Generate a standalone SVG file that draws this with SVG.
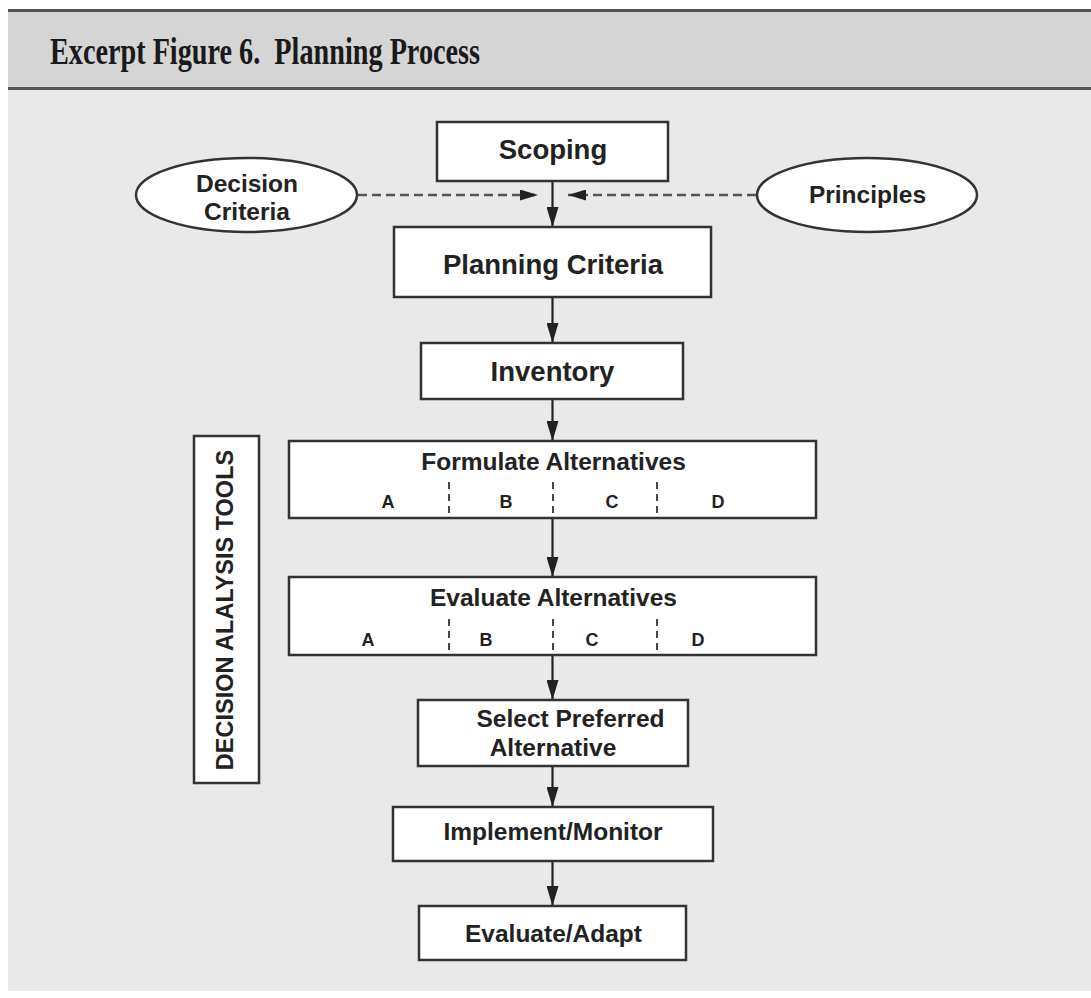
<svg xmlns="http://www.w3.org/2000/svg" width="1091" height="998" viewBox="0 0 1091 998">
<defs>
<style>
.box{fill:#fff;stroke:#333;stroke-width:2.5}
.ell{fill:#fff;stroke:#333;stroke-width:2.5}
.lbl{font-family:"Liberation Sans",Arial,sans-serif;font-weight:bold;fill:#222;text-anchor:middle}
.big{font-size:27.5px}
.mid{font-size:24.5px}
.sm{font-size:18px}
.div{stroke:#333;stroke-width:1.8;stroke-dasharray:7,5}
.flow{stroke:#222;stroke-width:2.2;fill:none}
.dash{stroke:#555;stroke-width:2.4;fill:none;stroke-dasharray:9,5}
</style>
<marker id="ah" markerUnits="userSpaceOnUse" markerWidth="20" markerHeight="12" refX="20" refY="6" orient="auto" viewBox="0 0 20 12">
<path d="M0,0 L20,6 L0,12 z" fill="#222"/>
</marker>
<marker id="ahd" markerUnits="userSpaceOnUse" markerWidth="18" markerHeight="11" refX="18" refY="5.5" orient="auto" viewBox="0 0 18 11">
<path d="M0,0 L18,5.5 L0,11 z" fill="#222"/>
</marker>
</defs>
<rect x="0" y="0" width="1091" height="998" fill="#fff"/>
<g id="frame">
<rect x="8" y="10" width="1083" height="981" fill="#e9e9e9"/>
<rect x="8" y="11" width="1083" height="77" fill="#d5d5d5"/>
<line x1="8" y1="10.5" x2="1091" y2="10.5" stroke="#555" stroke-width="3"/>
<line x1="8" y1="88.5" x2="1091" y2="88.5" stroke="#555" stroke-width="3"/>
<text x="50" y="64" xml:space="preserve" font-family="Liberation Serif,'Times New Roman',serif" font-weight="bold" font-size="37" fill="#1a1a1a" textLength="430" lengthAdjust="spacingAndGlyphs">Excerpt Figure 6.  Planning Process</text>
</g>
<g id="connectors">
<line class="flow" x1="552.5" y1="182" x2="552.5" y2="227" marker-end="url(#ah)"/>
<line class="flow" x1="552.5" y1="298" x2="552.5" y2="343" marker-end="url(#ah)"/>
<line class="flow" x1="552.5" y1="400" x2="552.5" y2="441" marker-end="url(#ah)"/>
<line class="flow" x1="552.5" y1="519" x2="552.5" y2="577" marker-end="url(#ah)"/>
<line class="flow" x1="552.5" y1="656" x2="552.5" y2="700" marker-end="url(#ah)"/>
<line class="flow" x1="552.5" y1="767" x2="552.5" y2="807" marker-end="url(#ah)"/>
<line class="flow" x1="552.5" y1="862" x2="552.5" y2="906" marker-end="url(#ah)"/>
<line class="dash" x1="358" y1="195" x2="538" y2="195" marker-end="url(#ahd)"/>
<line class="dash" x1="756" y1="195" x2="568" y2="195" marker-end="url(#ahd)"/>
</g>
<g id="scoping">
<rect class="box" x="437" y="122" width="231" height="59"/>
<text class="lbl big" x="553" y="159">Scoping</text>
</g>
<g id="decision-criteria">
<ellipse class="ell" cx="246.5" cy="195" rx="110.5" ry="37"/>
<text class="lbl mid" x="247" y="192">Decision</text>
<text class="lbl mid" x="247" y="220">Criteria</text>
</g>
<g id="principles">
<ellipse class="ell" cx="867" cy="195" rx="110" ry="37"/>
<text class="lbl mid" x="867.5" y="203">Principles</text>
</g>
<g id="planning-criteria">
<rect class="box" x="394" y="227" width="317" height="70"/>
<text class="lbl big" x="553" y="274">Planning Criteria</text>
</g>
<g id="inventory">
<rect class="box" x="421" y="343" width="262" height="56"/>
<text class="lbl big" x="552.5" y="381">Inventory</text>
</g>
<g id="decision-analysis-tools">
<rect class="box" x="194" y="436" width="65" height="347"/>
<text class="lbl" font-size="23.5" transform="translate(233,610) rotate(-90)" x="0" y="0">DECISION ALALYSIS TOOLS</text>
</g>
<g id="formulate-alternatives">
<rect class="box" x="289" y="441" width="527" height="77"/>
<text class="lbl mid" x="553.5" y="470">Formulate Alternatives</text>
<line class="div" x1="449" y1="482" x2="449" y2="515"/>
<line class="div" x1="553" y1="482" x2="553" y2="515"/>
<line class="div" x1="657" y1="482" x2="657" y2="515"/>
<text class="lbl sm" x="388" y="508">A</text>
<text class="lbl sm" x="506" y="508">B</text>
<text class="lbl sm" x="612" y="508">C</text>
<text class="lbl sm" x="718" y="508">D</text>
</g>
<g id="evaluate-alternatives">
<rect class="box" x="289" y="577" width="527" height="78"/>
<text class="lbl mid" x="553.5" y="606">Evaluate Alternatives</text>
<line class="div" x1="449" y1="619" x2="449" y2="652"/>
<line class="div" x1="553" y1="619" x2="553" y2="652"/>
<line class="div" x1="657" y1="619" x2="657" y2="652"/>
<text class="lbl sm" x="368" y="646">A</text>
<text class="lbl sm" x="486" y="646">B</text>
<text class="lbl sm" x="592" y="646">C</text>
<text class="lbl sm" x="698" y="646">D</text>
</g>
<g id="select-preferred">
<rect class="box" x="418" y="700" width="270" height="66"/>
<text class="lbl mid" x="570.5" y="727">Select Preferred</text>
<text class="lbl mid" x="553" y="756">Alternative</text>
</g>
<g id="implement-monitor">
<rect class="box" x="393" y="807" width="320" height="54"/>
<text class="lbl mid" x="553" y="840">Implement/Monitor</text>
</g>
<g id="evaluate-adapt">
<rect class="box" x="419" y="906" width="267" height="54"/>
<text class="lbl mid" x="553.5" y="942">Evaluate/Adapt</text>
</g>
</svg>
